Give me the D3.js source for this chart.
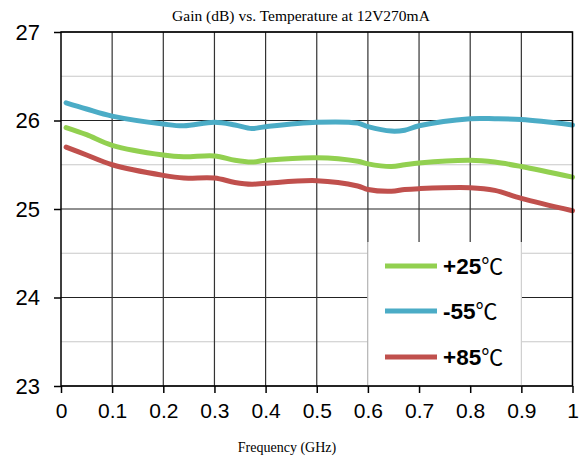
<!DOCTYPE html>
<html><head><meta charset="utf-8">
<script src="https://cdn.jsdelivr.net/npm/d3@7"></script>
<style>body{margin:0;background:#fff;} svg{display:block;}</style>
</head><body>
<svg id="c" width="579" height="461"></svg>
<script>
const freq = [0.01, 0.05, 0.1, 0.2, 0.24, 0.3, 0.34, 0.373, 0.4, 0.5, 0.58, 0.6, 0.646, 0.672, 0.7, 0.8, 0.848, 0.9, 1.0];
const gain55 = [26.20, 26.13, 26.05, 25.96, 25.94, 25.98, 25.95, 25.91, 25.93, 25.98, 25.97, 25.93, 25.88, 25.89, 25.94, 26.02, 26.02, 26.01, 25.95];
const gain25 = [25.92, 25.84, 25.72, 25.61, 25.59, 25.60, 25.55, 25.53, 25.55, 25.58, 25.54, 25.51, 25.48, 25.50, 25.52, 25.55, 25.53, 25.48, 25.36];
const gain85 = [25.70, 25.61, 25.50, 25.38, 25.35, 25.35, 25.30, 25.28, 25.29, 25.32, 25.26, 25.22, 25.20, 25.22, 25.23, 25.24, 25.21, 25.12, 24.98];
const xTicks = [0, 0.1, 0.2, 0.3, 0.4, 0.5, 0.6, 0.7, 0.8, 0.9, 1];
const xTickLabels = ["0", "0.1", "0.2", "0.3", "0.4", "0.5", "0.6", "0.7", "0.8", "0.9", "1"];
const yTicks = [23, 24, 25, 26, 27];
const yMinor = [23.5, 24.5, 25.5, 26.5];
const seriesNames = ["+25", "-55", "+85"];
const seriesColors = ["#92D050", "#4BACC6", "#C0504D"];
const seriesData = [gain25, gain55, gain85];
const title = "Gain (dB) vs. Temperature at 12V270mA";
const xLabel = "Frequency (GHz)";

const svg = d3.select("#c");
const L = 61, R = 572.5, T = 32, B = 386;
const x = d3.scaleLinear().domain([0, 1]).range([L, R]);
const y = d3.scaleLinear().domain([23, 27]).range([B, T]);

svg.append("g").selectAll("line").data(yMinor).join("line")
  .attr("x1", L).attr("x2", R).attr("y1", d => y(d)).attr("y2", d => y(d))
  .attr("stroke", "#c8c8c8").attr("stroke-width", 1.2);
svg.append("g").selectAll("line").data(yTicks).join("line")
  .attr("x1", L).attr("x2", R).attr("y1", d => y(d)).attr("y2", d => y(d))
  .attr("stroke", "#222").attr("stroke-width", 1.2);
svg.append("g").selectAll("line").data(xTicks.slice(1, -1)).join("line")
  .attr("x1", d => x(d)).attr("x2", d => x(d)).attr("y1", T).attr("y2", B)
  .attr("stroke", "#333").attr("stroke-width", 1.2);

const line = d3.line().x((d, i) => x(freq[i])).y(d => y(d)).curve(d3.curveCatmullRom.alpha(0.5));
seriesData.forEach((s, k) => {
  svg.append("path").attr("d", line(s)).attr("fill", "none")
    .attr("stroke", seriesColors[k]).attr("stroke-width", 5).attr("stroke-linecap", "round");
});

const lx0 = x(0.6), lx1 = x(0.9), ly0 = 242;
svg.append("rect").attr("x", lx0).attr("y", ly0).attr("width", lx1 - lx0).attr("height", B - ly0 - 0.6).attr("fill", "#fff");
[lx0, lx1].forEach(v => svg.append("line").attr("x1", v).attr("x2", v).attr("y1", ly0).attr("y2", B)
  .attr("stroke", "#d4d4d4").attr("stroke-width", 1.2));
const legY = [266, 311, 357];
seriesNames.forEach((n, k) => {
  svg.append("rect").attr("x", 385).attr("y", legY[k] - 2.5).attr("width", 52).attr("height", 5).attr("fill", seriesColors[k]);
  const t = svg.append("text").attr("x", 443).attr("y", legY[k] + 8)
    .attr("font-family", "Liberation Sans, Arial, sans-serif").attr("font-size", 22.5).attr("font-weight", "bold").attr("fill", "#000");
  t.append("tspan").text(n);
  t.append("tspan").attr("font-weight", "normal").attr("font-family", "Noto Sans CJK SC").attr("font-size", 22).text("\u2103");
});

svg.append("rect").attr("x", L).attr("y", T).attr("width", R - L).attr("height", B - T)
  .attr("fill", "none").attr("stroke", "#000").attr("stroke-width", 1.5);

const yAxis = svg.append("g").attr("transform", `translate(${L},0)`)
  .call(d3.axisLeft(y).tickValues(yTicks).tickSize(7).tickPadding(14).tickFormat(d3.format("d")));
yAxis.select(".domain").remove();
yAxis.selectAll("line").attr("stroke", "#000").attr("stroke-width", 1.5);
yAxis.selectAll("text").attr("font-family", "Liberation Sans, Arial, sans-serif").attr("font-size", 22).attr("fill", "#000");

const xAxis = svg.append("g").attr("transform", `translate(0,${B})`)
  .call(d3.axisBottom(x).tickValues(xTicks).tickSize(7).tickPadding(10).tickFormat((d, i) => xTickLabels[i]));
xAxis.select(".domain").remove();
xAxis.selectAll("line").attr("stroke", "#000").attr("stroke-width", 1.5);
xAxis.selectAll("text").attr("font-family", "Liberation Sans, Arial, sans-serif").attr("font-size", 21).attr("fill", "#000");

svg.append("text").attr("x", 301).attr("y", 21).attr("text-anchor", "middle")
  .attr("font-family", "Liberation Serif, Times New Roman, serif").attr("font-size", 15.5).attr("fill", "#000").text(title);
svg.append("text").attr("x", 287).attr("y", 452).attr("text-anchor", "middle")
  .attr("font-family", "Liberation Serif, Times New Roman, serif").attr("font-size", 14).attr("fill", "#000").text(xLabel);
</script>
</body></html>
